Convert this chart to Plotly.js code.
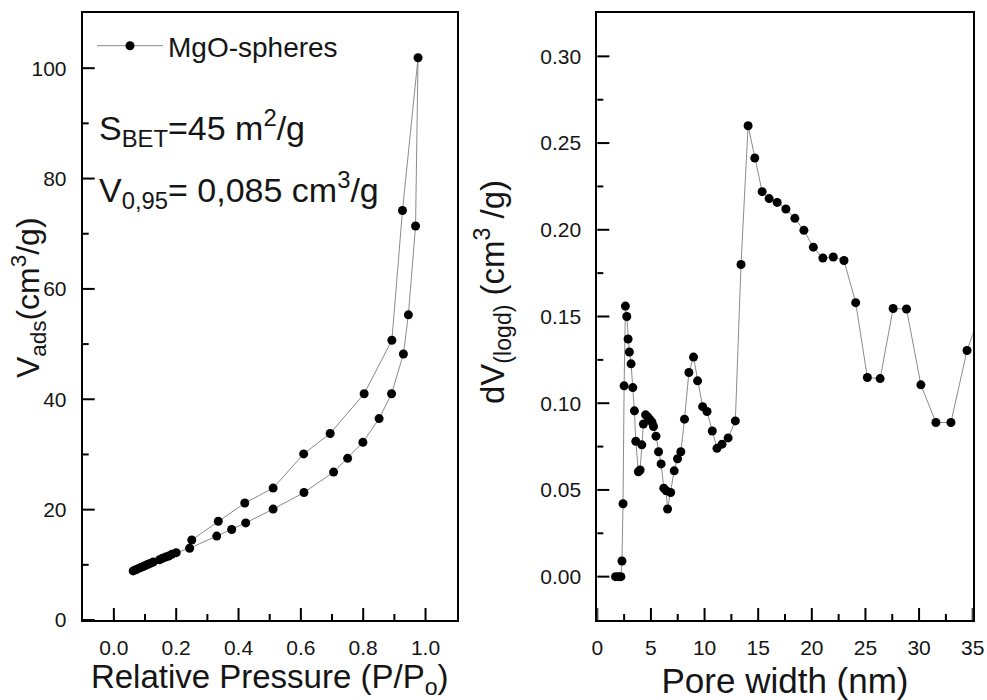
<!DOCTYPE html>
<html>
<head>
<meta charset="utf-8">
<script src="https://cdn.plot.ly/plotly-3.0.1.min.js"></script>
<style>html,body{margin:0;padding:0;background:#fff;}#chart{width:987px;height:700px;}</style>
</head>
<body>
<div id="chart"></div>
<script>
// ---- Left panel: N2 adsorption/desorption isotherm ----
const adsP = [0.062, 0.070, 0.078, 0.086, 0.094, 0.102, 0.110, 0.118, 0.126, 0.146, 0.156, 0.166, 0.176, 0.186, 0.200, 0.243, 0.330, 0.378, 0.423, 0.511, 0.610, 0.705, 0.750, 0.799, 0.851, 0.891, 0.929, 0.945, 0.968, 0.976];
const adsV = [8.9, 9.1, 9.3, 9.5, 9.7, 9.9, 10.1, 10.3, 10.5, 10.9, 11.2, 11.4, 11.6, 11.9, 12.2, 13.0, 15.2, 16.4, 17.6, 20.1, 23.1, 26.8, 29.3, 32.2, 36.5, 41.0, 48.2, 55.3, 71.4, 101.9];
const desP = [0.926, 0.892, 0.803, 0.694, 0.609, 0.511, 0.420, 0.335, 0.250];
const desV = [74.2, 50.7, 41.0, 33.8, 30.1, 23.9, 21.2, 17.9, 14.5];

// ---- Right panel: pore size distribution ----
const poreWidth = [1.7, 1.95, 2.2, 2.3, 2.4, 2.5, 2.62, 2.75, 2.87, 2.99, 3.15, 3.31, 3.46, 3.59, 3.83, 3.99, 4.15, 4.30, 4.50, 4.72, 4.93, 5.10, 5.24, 5.47, 5.71, 5.95, 6.20, 6.42, 6.55, 6.84, 7.17, 7.48, 7.79, 8.13, 8.54, 8.97, 9.35, 9.82, 10.23, 10.72, 11.16, 11.63, 12.2, 12.87, 13.4, 14.06, 14.68, 15.37, 16.02, 16.77, 17.58, 18.42, 19.26, 20.14, 21.03, 22.0, 23.0, 24.09, 25.18, 26.37, 27.58, 28.83, 30.17, 31.57, 32.97, 34.47, 36.0];
const dVlogd = [0, 0, 0, 0.009, 0.042, 0.110, 0.156, 0.150, 0.137, 0.1295, 0.1227, 0.109, 0.0956, 0.078, 0.0605, 0.0615, 0.076, 0.088, 0.0933, 0.092, 0.0904, 0.089, 0.0866, 0.081, 0.072, 0.065, 0.051, 0.0495, 0.039, 0.0485, 0.061, 0.068, 0.072, 0.0908, 0.1177, 0.1266, 0.1129, 0.098, 0.0952, 0.084, 0.074, 0.0764, 0.080, 0.0898, 0.180, 0.260, 0.2414, 0.222, 0.218, 0.2158, 0.212, 0.2066, 0.1997, 0.190, 0.1837, 0.1843, 0.1823, 0.158, 0.1148, 0.1142, 0.1546, 0.1543, 0.1106, 0.0889, 0.0889, 0.1304, 0.157];

const seriesName = 'MgO-spheres';

// tick values
const leftXTicks = [0.0, 0.2, 0.4, 0.6, 0.8, 1.0];
const leftXMinor = [0.1, 0.3, 0.5, 0.7, 0.9];
const leftYTicks = [0, 20, 40, 60, 80, 100];
const leftYMinor = [10, 30, 50, 70, 90];
const rightXTicks = [0, 5, 10, 15, 20, 25, 30, 35];
const rightXMinor = [2.5, 7.5, 12.5, 17.5, 22.5, 27.5, 32.5];
const rightYTicks = [0.00, 0.05, 0.10, 0.15, 0.20, 0.25, 0.30];
const rightYMinor = [0.025, 0.075, 0.125, 0.175, 0.225, 0.275];

const FONT = 'Liberation Sans, Arial, Helvetica, sans-serif';
const TXT = '#151515';

const marker = {color: '#000', size: 9, symbol: 'circle'};
const line = {color: '#8a8a8a', width: 1};

const traces = [
  {
    x: adsP.concat(desP), y: adsV.concat(desV),
    xaxis: 'x', yaxis: 'y', type: 'scatter', mode: 'lines+markers',
    name: seriesName, marker: marker, line: line, showlegend: true
  },
  {
    x: poreWidth, y: dVlogd,
    xaxis: 'x2', yaxis: 'y2', type: 'scatter', mode: 'lines+markers',
    name: seriesName, marker: marker, line: line, showlegend: false
  }
];

const W = 987, H = 700;
const px = v => v / W, py = v => 1 - v / H;

const X1 = [px(82.7), px(456.7)], X2 = [px(597.3), px(972.7)], YD = [py(620), py(13)];
const PLOT_W = 374, PLOT_H = 607;
const MAJOR = 12, MINOR = 6;

function mainAxis() {
  return {
    showgrid: false, zeroline: false,
    showline: true, linecolor: '#000', linewidth: 2, mirror: true,
    ticks: '', ticklabelstandoff: 10,
    tickfont: {family: FONT, size: 21, color: TXT}
  };
}

// inside tick marks, placed through the axes' own scales
const shapes = [];
function xTickMarks(xa, vals, len) {
  vals.forEach(function (v) {
    shapes.push({type: 'line', xref: xa, yref: (xa === 'x' ? 'y' : 'y2') + ' domain', x0: v, x1: v, y0: 0, y1: len / PLOT_H,
      line: {color: '#000', width: 2}, layer: 'above'});
  });
}
function yTickMarks(ya, vals, len) {
  vals.forEach(function (v) {
    shapes.push({type: 'line', xref: (ya === 'y' ? 'x' : 'x2') + ' domain', yref: ya, x0: 0, x1: len / PLOT_W, y0: v, y1: v,
      line: {color: '#000', width: 2}, layer: 'above'});
  });
}
xTickMarks('x', leftXTicks, MAJOR); xTickMarks('x', leftXMinor, MINOR);
yTickMarks('y', leftYTicks, MAJOR); yTickMarks('y', leftYMinor, MINOR);
xTickMarks('x2', rightXTicks, MAJOR); xTickMarks('x2', rightXMinor, MINOR);
yTickMarks('y2', rightYTicks, MAJOR); yTickMarks('y2', rightYMinor, MINOR);

const layout = {
  width: W, height: H,
  margin: {l: 0, r: 0, t: 0, b: 0},
  paper_bgcolor: '#fff', plot_bgcolor: '#fff',
  font: {family: FONT, color: TXT},
  showlegend: true,
  legend: {
    x: px(92), y: py(46), xanchor: 'left', yanchor: 'middle',
    bgcolor: 'rgba(0,0,0,0)', font: {family: FONT, size: 28, color: TXT},
    itemwidth: 66
  },
  xaxis: Object.assign(mainAxis(), {
    domain: X1, anchor: 'y', range: [-0.1, 1.1], tickvals: leftXTicks, tickformat: '.1f', ticklabelstandoff: 8,
    title: {text: 'Relative Pressure (P/P<sub>o</sub>)', font: {family: FONT, size: 33, color: TXT}, standoff: 6}
  }),
  yaxis: Object.assign(mainAxis(), {
    domain: YD, anchor: 'x', range: [0, 110], tickvals: leftYTicks
  }),
  xaxis2: Object.assign(mainAxis(), {
    domain: X2, anchor: 'y2', range: [0, 35], tickvals: rightXTicks, ticklabelstandoff: 8,
    title: {text: 'Pore width (nm)', font: {family: FONT, size: 35, color: TXT}, standoff: 14}
  }),
  yaxis2: Object.assign(mainAxis(), {
    domain: YD, anchor: 'x2', range: [-0.025, 0.325], tickvals: rightYTicks, tickformat: '.2f'
  }),
  shapes: shapes,
  annotations: [
    {xref: 'paper', yref: 'paper', x: px(28), y: py(298), xanchor: 'center', yanchor: 'middle', showarrow: false,
     textangle: -90, text: 'V<sub>ads</sub>(cm<sup>3</sup>/g)', font: {family: FONT, size: 32, color: TXT}},
    {xref: 'paper', yref: 'paper', x: px(492), y: py(292), xanchor: 'center', yanchor: 'middle', showarrow: false,
     textangle: -90, text: 'dV<sub>(logd)</sub> (cm<sup>3</sup> /g)', font: {family: FONT, size: 33, color: TXT}},
    {xref: 'paper', yref: 'paper', x: px(97), y: py(128), xanchor: 'left', yanchor: 'middle', showarrow: false,
     text: 'S<sub>BET</sub>=45 m<sup>2</sup>/g', font: {family: FONT, size: 34, color: TXT}},
    {xref: 'paper', yref: 'paper', x: px(97), y: py(190), xanchor: 'left', yanchor: 'middle', showarrow: false,
     text: 'V<sub>0,95</sub>= 0,085 cm<sup>3</sup>/g', font: {family: FONT, size: 34, color: TXT}}
  ]
};

Plotly.newPlot('chart', traces, layout, {displayModeBar: false, staticPlot: true});
</script>
</body>
</html>
